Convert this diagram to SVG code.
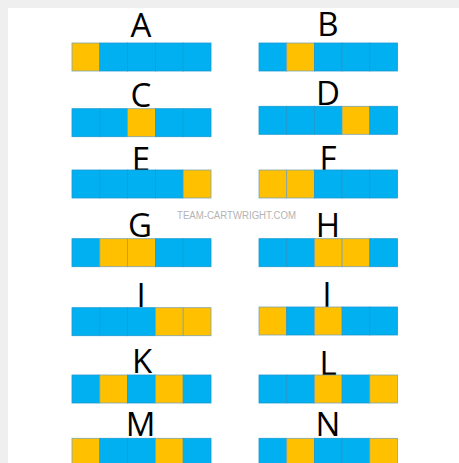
<svg xmlns="http://www.w3.org/2000/svg" width="459" height="463" viewBox="0 0 459 463">
<style>
.lt{font-family:"Open Sans","Liberation Sans",sans-serif;font-size:33px;fill:#000;text-anchor:middle}
.b{fill:#00b0f0;stroke:#1c9ad0;stroke-width:0.8}
.y{fill:#ffc000;stroke:#7fa3ac;stroke-width:0.8}
.wm{font-family:"Liberation Sans",sans-serif;font-size:10px;fill:#b4b4b4;text-anchor:middle}
</style>
<rect x="0" y="0" width="459" height="463" fill="#efefef"/>
<rect x="8" y="8" width="451" height="455" fill="#ffffff"/>
<text class="wm" x="236.5" y="219" textLength="119" lengthAdjust="spacingAndGlyphs">TEAM-CARTWRIGHT.COM</text>
<g id="A"><text class="lt" x="141" y="37">A</text>
<rect class="y" x="72" y="43" width="27.8" height="28"/><rect class="b" x="99.8" y="43" width="27.8" height="28"/><rect class="b" x="127.6" y="43" width="27.8" height="28"/><rect class="b" x="155.4" y="43" width="27.8" height="28"/><rect class="b" x="183.2" y="43" width="27.8" height="28"/></g>
<g id="B"><text class="lt" x="328" y="36">B</text>
<rect class="b" x="259" y="43" width="27.7" height="28"/><rect class="y" x="286.7" y="43" width="27.7" height="28"/><rect class="b" x="314.4" y="43" width="27.7" height="28"/><rect class="b" x="342.1" y="43" width="27.7" height="28"/><rect class="b" x="369.8" y="43" width="27.7" height="28"/></g>
<g id="C"><text class="lt" x="141" y="107">C</text>
<rect class="b" x="72" y="108.7" width="27.8" height="28"/><rect class="b" x="99.8" y="108.7" width="27.8" height="28"/><rect class="y" x="127.6" y="108.7" width="27.8" height="28"/><rect class="b" x="155.4" y="108.7" width="27.8" height="28"/><rect class="b" x="183.2" y="108.7" width="27.8" height="28"/></g>
<g id="D"><text class="lt" x="328" y="105">D</text>
<rect class="b" x="259" y="106.3" width="27.7" height="28"/><rect class="b" x="286.7" y="106.3" width="27.7" height="28"/><rect class="b" x="314.4" y="106.3" width="27.7" height="28"/><rect class="y" x="342.1" y="106.3" width="27.7" height="28"/><rect class="b" x="369.8" y="106.3" width="27.7" height="28"/></g>
<g id="E"><text class="lt" x="141" y="171">E</text>
<rect class="b" x="72" y="170" width="27.8" height="28"/><rect class="b" x="99.8" y="170" width="27.8" height="28"/><rect class="b" x="127.6" y="170" width="27.8" height="28"/><rect class="b" x="155.4" y="170" width="27.8" height="28"/><rect class="y" x="183.2" y="170" width="27.8" height="28"/></g>
<g id="F"><text class="lt" x="328" y="170">F</text>
<rect class="y" x="259" y="170" width="27.7" height="28"/><rect class="y" x="286.7" y="170" width="27.7" height="28"/><rect class="b" x="314.4" y="170" width="27.7" height="28"/><rect class="b" x="342.1" y="170" width="27.7" height="28"/><rect class="b" x="369.8" y="170" width="27.7" height="28"/></g>
<g id="G"><text class="lt" x="140" y="237">G</text>
<rect class="b" x="72" y="238.7" width="27.8" height="28"/><rect class="y" x="99.8" y="238.7" width="27.8" height="28"/><rect class="y" x="127.6" y="238.7" width="27.8" height="28"/><rect class="b" x="155.4" y="238.7" width="27.8" height="28"/><rect class="b" x="183.2" y="238.7" width="27.8" height="28"/></g>
<g id="H"><text class="lt" x="328" y="237">H</text>
<rect class="b" x="259" y="238.7" width="27.7" height="28"/><rect class="b" x="286.7" y="238.7" width="27.7" height="28"/><rect class="y" x="314.4" y="238.7" width="27.7" height="28"/><rect class="y" x="342.1" y="238.7" width="27.7" height="28"/><rect class="b" x="369.8" y="238.7" width="27.7" height="28"/></g>
<g id="I"><text class="lt" x="141" y="307">I</text>
<rect class="b" x="72" y="307.7" width="27.8" height="28"/><rect class="b" x="99.8" y="307.7" width="27.8" height="28"/><rect class="b" x="127.6" y="307.7" width="27.8" height="28"/><rect class="y" x="155.4" y="307.7" width="27.8" height="28"/><rect class="y" x="183.2" y="307.7" width="27.8" height="28"/></g>
<g id="J"><text class="lt" x="327" y="306">J</text>
<rect class="y" x="259" y="307" width="27.7" height="28"/><rect class="b" x="286.7" y="307" width="27.7" height="28"/><rect class="y" x="314.4" y="307" width="27.7" height="28"/><rect class="b" x="342.1" y="307" width="27.7" height="28"/><rect class="b" x="369.8" y="307" width="27.7" height="28"/></g>
<g id="K"><text class="lt" x="142" y="373">K</text>
<rect class="b" x="72" y="375" width="27.8" height="28"/><rect class="y" x="99.8" y="375" width="27.8" height="28"/><rect class="b" x="127.6" y="375" width="27.8" height="28"/><rect class="y" x="155.4" y="375" width="27.8" height="28"/><rect class="b" x="183.2" y="375" width="27.8" height="28"/></g>
<g id="L"><text class="lt" x="328" y="375">L</text>
<rect class="b" x="259" y="375" width="27.7" height="28"/><rect class="b" x="286.7" y="375" width="27.7" height="28"/><rect class="y" x="314.4" y="375" width="27.7" height="28"/><rect class="b" x="342.1" y="375" width="27.7" height="28"/><rect class="y" x="369.8" y="375" width="27.7" height="28"/></g>
<g id="M"><text class="lt" x="140.5" y="436">M</text>
<rect class="y" x="72" y="438.3" width="27.8" height="28"/><rect class="b" x="99.8" y="438.3" width="27.8" height="28"/><rect class="b" x="127.6" y="438.3" width="27.8" height="28"/><rect class="y" x="155.4" y="438.3" width="27.8" height="28"/><rect class="b" x="183.2" y="438.3" width="27.8" height="28"/></g>
<g id="N"><text class="lt" x="328" y="436">N</text>
<rect class="b" x="259" y="438.3" width="27.7" height="28"/><rect class="y" x="286.7" y="438.3" width="27.7" height="28"/><rect class="b" x="314.4" y="438.3" width="27.7" height="28"/><rect class="b" x="342.1" y="438.3" width="27.7" height="28"/><rect class="y" x="369.8" y="438.3" width="27.7" height="28"/></g>
</svg>
